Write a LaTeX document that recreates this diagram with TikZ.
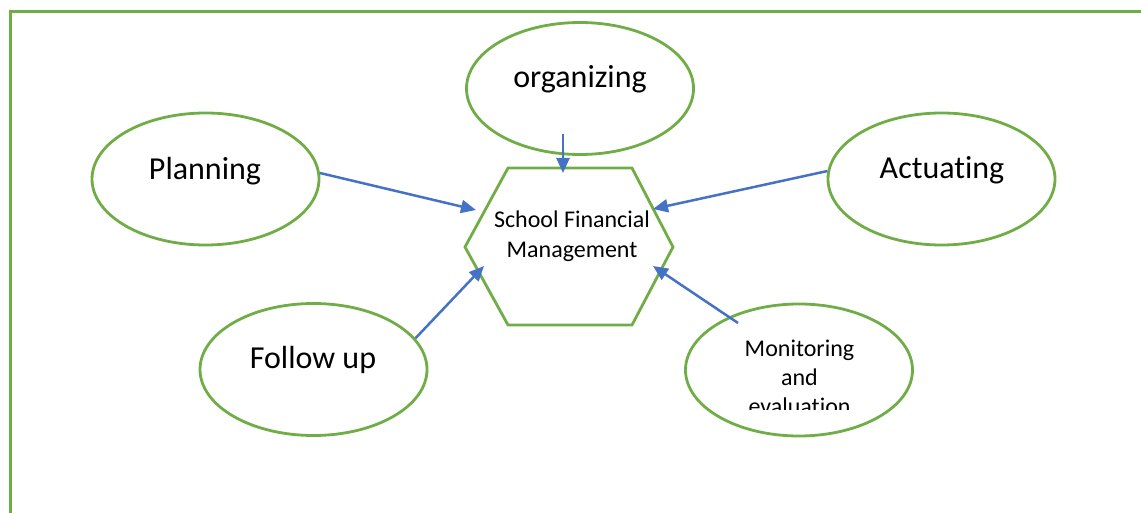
\documentclass[tikz,border=0pt]{standalone}
\usepackage{fontspec}
\setmainfont{Carlito}[Ligatures=NoCommon]
\usetikzlibrary{arrows.meta,shapes.geometric}
\definecolor{leafgreen}{HTML}{70AD47}
\definecolor{linkblue}{HTML}{4472C4}
\tikzset{
  stage/.style={ellipse, draw=leafgreen, line width=2.8pt,
    minimum width=227pt, minimum height=132pt, inner sep=0pt},
  stagetext/.style={anchor=base, inner sep=0pt, font=\fontsize{32}{38}\selectfont},
  smalltext/.style={anchor=base, inner sep=0pt, align=center},
  link/.style={draw=linkblue, line width=2.5pt, -{Triangle[length=15pt,width=13pt]}}
}

\begin{document}
\begin{tikzpicture}[x=1pt,y=-1pt]
\useasboundingbox (0,0) rectangle (1141,513);
% frame
\draw[leafgreen, line width=2.7pt] (10.3,513) |- (1141,11.3);

% hexagon in the middle
\draw[leafgreen, line width=2.8pt, line join=miter]
  (508,168) -- (632,168) -- (673,247) -- (632,325) -- (508,325) -- (465,247) -- cycle;
\node[smalltext, font=\fontsize{24}{30}\selectfont] (sfm) at (572,258)
  {School Financial\\Management};
\coordinate (in-nw) at (476,210);
\coordinate (in-n) at (563,173);
\coordinate (in-ne) at (653,209);
\coordinate (in-sw) at (484,266);
\coordinate (in-se) at (653,266);

% the stages round it
\node[stage] (org) at (580,88.5) {};
\node[stage] (plan) at (205.5,179) {};
\node[stage] (act) at (941.5,179) {};
\node[stage] (follow) at (313.5,369.5) {};
\node[stage] (mon) at (799,370) {};

\node[stagetext] (org-txt) at (580,88) {organizing};
\node[stagetext] (plan-txt) at (205,180) {Planning};
\node[stagetext] (act-txt) at (942,179) {Actuating};
\node[stagetext] (follow-txt) at (313,368) {Follow up};
% text box of the last stage is cut off at its bottom
\begin{scope}
  \clip (690,330) rectangle (910,409.3);
  \node[smalltext, font=\fontsize{24}{29}\selectfont] (mon-txt) at (799.5,414)
    {Monitoring\\and\\evaluation};
\end{scope}

% arrows
\draw[link] (plan.3) -- (in-nw);
\draw[link] ([xshift=-17pt,yshift=22pt]org.south) -- (in-n);
\draw[link] (act.176) -- (in-ne);
\draw[link] (follow.17) -- (in-sw);
\draw[link] ([shift={(-61pt,47pt)}]mon.center) -- (in-se);
\end{tikzpicture}
\end{document}
